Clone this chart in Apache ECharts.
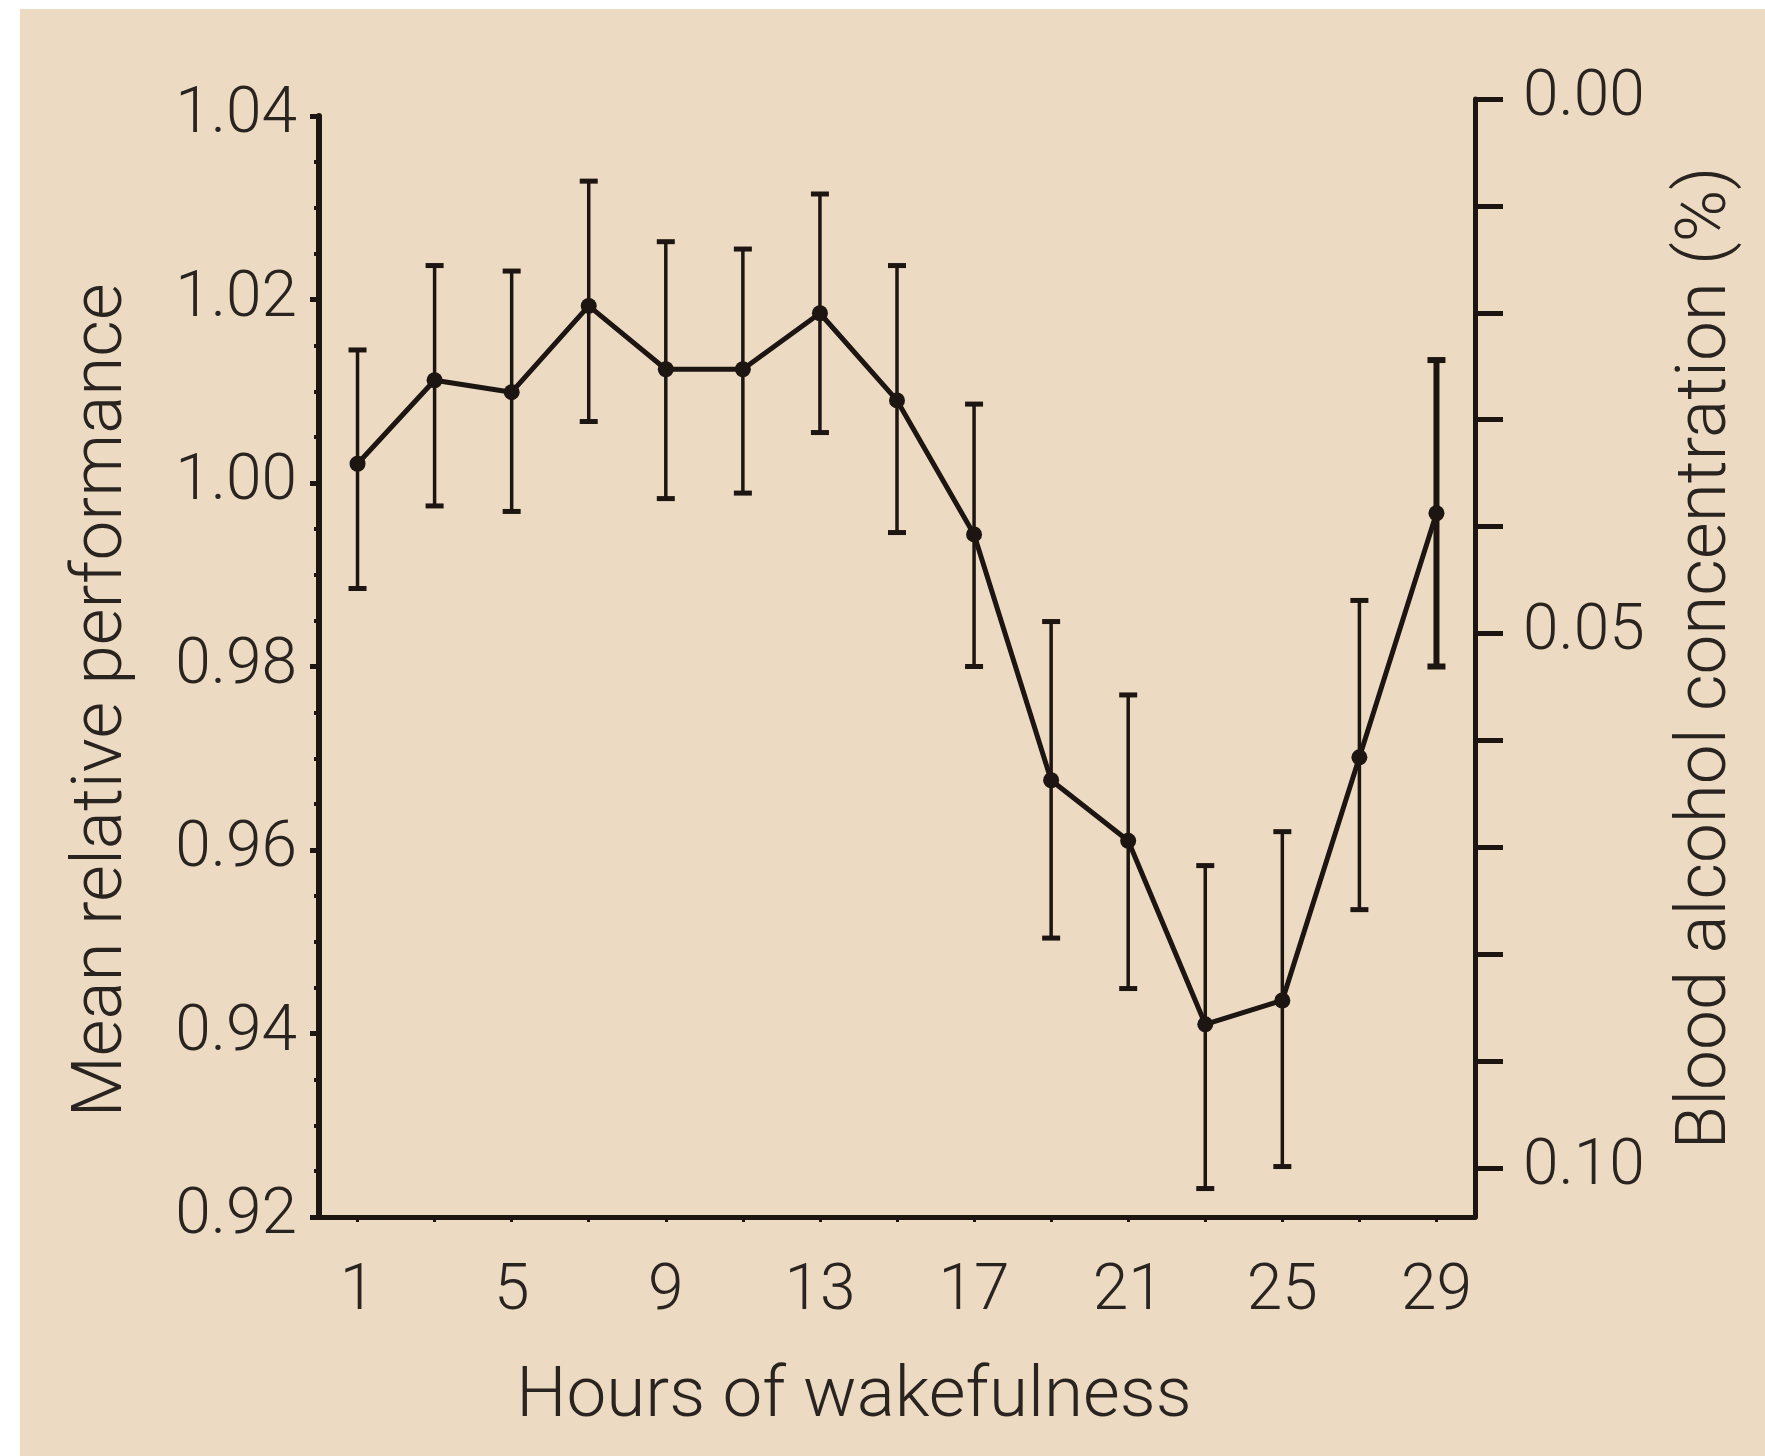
<!DOCTYPE html>
<html>
<head>
<meta charset="utf-8">
<script src="https://cdn.jsdelivr.net/npm/echarts@6/dist/echarts.min.js"></script>
<style>
  html, body { margin: 0; padding: 0; background: #ffffff; }
  #bg { position: absolute; left: 20px; top: 9px; right: 0; bottom: 0; background: #ecdbc2; }
  #chart { position: absolute; left: 0; top: 0; width: 1765px; height: 1456px; }
</style>
</head>
<body>
<div id="bg"></div>
<div id="chart"></div>
<script>
// Hours of wakefulness (odd hours)
const hours = ['1','3','5','7','9','11','13','15','17','19','21','23','25','27','29'];
// Mean relative performance
const means = [1.0021, 1.0112, 1.0099, 1.0193, 1.0124, 1.0124, 1.0185, 1.0090, 0.9944, 0.9676, 0.9610, 0.9410, 0.9436, 0.9701, 0.9967];
// Error bar upper / lower limits
const upper = [1.0145, 1.0237, 1.0231, 1.0329, 1.0263, 1.0255, 1.0315, 1.0237, 1.0086, 0.9849, 0.9769, 0.9583, 0.9620, 0.9872, 1.0134];
const lower = [0.9885, 0.9975, 0.9969, 1.0067, 0.9983, 0.9989, 1.0055, 0.9946, 0.9800, 0.9504, 0.9449, 0.9231, 0.9255, 0.9535, 0.9800];
// Right axis (blood alcohol concentration) ticks and labels
const bacTicks = [0, 0.01, 0.02, 0.03, 0.04, 0.05, 0.06, 0.07, 0.08, 0.09, 0.10];
const bacLabels = [0, 0.05, 0.10];

const ink = '#1d1512';
const txt = '#2a2420';
const font = 'Roboto';

const chart = echarts.init(document.getElementById('chart'), null, { renderer: 'canvas' });

const option = {
  backgroundColor: 'transparent',
  animation: false,
  grid: [
    { left: 319, right: 290, top: 116, bottom: 239 },
    { left: 319, right: 290, top: 99, bottom: 239 }
  ],
  xAxis: [
    {
      gridIndex: 0,
      type: 'category',
      data: hours,
      boundaryGap: true,
      name: 'Hours of wakefulness',
      nameLocation: 'middle',
      nameGap: 146,
      nameTextStyle: { fontFamily: font, fontWeight: 300, fontSize: 71, color: txt, padding: [0, 86, 0, 0] },
      axisLine: { onZero: false, lineStyle: { color: ink, width: 5 } },
      axisTick: { show: true, alignWithLabel: true, interval: 0, length: 5, lineStyle: { color: ink, width: 3 } },
      axisLabel: { interval: 1, margin: 44, fontFamily: font, fontWeight: 300, fontSize: 64, color: txt },
      splitLine: { show: false }
    },
    {
      gridIndex: 1,
      type: 'value',
      min: 0, max: 1,
      show: false
    }
  ],
  yAxis: [
    {
      gridIndex: 0,
      type: 'value',
      position: 'left',
      min: 0.92, max: 1.04, interval: 0.02,
      name: 'Mean relative performance',
      nameLocation: 'middle',
      nameGap: 180,
      nameRotate: 90,
      nameTextStyle: { fontFamily: font, fontWeight: 300, fontSize: 71, color: txt, padding: [0, 68, 0, 0] },
      axisLine: { show: true, onZero: false, lineStyle: { color: ink, width: 6 } },
      axisTick: { show: true, length: 9, lineStyle: { color: ink, width: 5 } },
      minorTick: { show: true, splitNumber: 4, length: 5, lineStyle: { color: ink, width: 4 } },
      axisLabel: { margin: 22, fontFamily: font, fontWeight: 300, fontSize: 64, color: txt,
        formatter: v => v.toFixed(2) },
      splitLine: { show: false }
    },
    {
      gridIndex: 1,
      type: 'value',
      position: 'right',
      inverse: true,
      min: 0, max: 0.1046,
      name: 'Blood alcohol concentration (%)',
      nameLocation: 'middle',
      nameGap: 197,
      nameRotate: 90,
      nameTextStyle: { fontFamily: font, fontWeight: 300, fontSize: 71, color: txt },
      axisLine: { show: true, onZero: false, lineStyle: { color: ink, width: 5 } },
      axisTick: { show: true, customValues: bacTicks, length: 28, lineStyle: { color: ink, width: 5 } },
      axisLabel: { customValues: bacLabels, margin: 48, fontFamily: font, fontWeight: 300, fontSize: 64, color: txt,
        formatter: v => Number(v).toFixed(2) },
      splitLine: { show: false }
    }
  ],
  series: [
    {
      type: 'custom',
      xAxisIndex: 0,
      yAxisIndex: 0,
      data: hours.map((h, i) => [i, lower[i], upper[i]]),
      encode: { x: 0, y: [1, 2] },
      renderItem: function (params, api) {
        const x = api.value(0);
        const lo = api.coord([x, api.value(1)]);
        const hi = api.coord([x, api.value(2)]);
        const bold = params.dataIndex === hours.length - 1;
        const hw = 9;
        const st = { stroke: ink, lineWidth: bold ? 6 : 3.5 };
        const cap = { stroke: ink, lineWidth: bold ? 6 : 5 };
        return {
          type: 'group',
          children: [
            { type: 'line', shape: { x1: lo[0], y1: lo[1], x2: hi[0], y2: hi[1] }, style: st },
            { type: 'line', shape: { x1: hi[0] - hw, y1: hi[1], x2: hi[0] + hw, y2: hi[1] }, style: cap },
            { type: 'line', shape: { x1: lo[0] - hw, y1: lo[1], x2: lo[0] + hw, y2: lo[1] }, style: cap }
          ]
        };
      },
      z: 2
    },
    {
      type: 'line',
      xAxisIndex: 0,
      yAxisIndex: 0,
      data: means,
      symbol: 'circle',
      symbolSize: 16,
      lineStyle: { color: ink, width: 5 },
      itemStyle: { color: ink },
      z: 3
    }
  ]
};
chart.setOption(option);
</script>
</body>
</html>
